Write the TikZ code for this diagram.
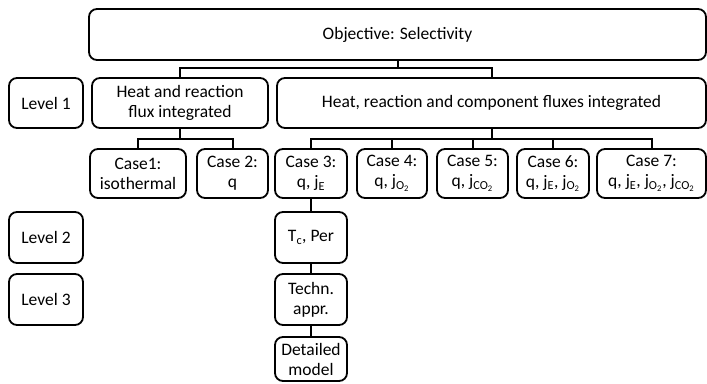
\documentclass[tikz,border=0pt]{standalone}
\usepackage{fontspec}
\setmainfont{Carlito}
\begin{document}
\begin{tikzpicture}[x=1pt,y=-1pt,
  box/.style={draw, line width=1.8pt, rounded corners=8pt, inner sep=0pt,
    align=center, font=\fontsize{17.5}{20}\selectfont},
  link/.style={line width=2pt}]
\useasboundingbox (0,0) rectangle (707,383);

% top objective
\node[box, minimum width=617pt, minimum height=51pt] (obj) at (397.5,34.5) {Objective: Selectivity};

% level labels
\node[box, minimum width=74pt, minimum height=50pt] (lv1) at (46,103) {Level 1};
\node[box, minimum width=74pt, minimum height=51pt] (lv2) at (46,237.5) {Level 2};
\node[box, minimum width=74pt, minimum height=51pt] (lv3) at (46,299.5) {Level 3};

% level 1 branches
\node[box, minimum width=176pt, minimum height=50pt] (hr) at (180,103) {Heat and reaction\\flux integrated};
\node[box, minimum width=429pt, minimum height=50pt] (hrc) at (491.5,103) {Heat, reaction and component fluxes integrated};

% cases
\node[box, minimum width=96pt, minimum height=49pt] (c1) at (138,173.5) {Case1:\\isothermal};
\node[box, minimum width=71pt, minimum height=49pt] (c2) at (232.5,173.5) {Case 2:\\q};
\node[box, minimum width=72pt, minimum height=49pt] (c3) at (311,173.5) {Case 3:\\q, j\textsubscript{E}};
\node[box, minimum width=70pt, minimum height=49pt] (c4) at (392,173.5) {Case 4:\\q, j\textsubscript{O\textsubscript{2}}};
\node[box, minimum width=71pt, minimum height=49pt] (c5) at (472.5,173.5) {Case 5:\\q, j\textsubscript{CO\textsubscript{2}}};
\node[box, minimum width=72pt, minimum height=49pt] (c6) at (553,173.5) {Case 6:\\q, j\textsubscript{E}, j\textsubscript{O\textsubscript{2}}};
\node[box, minimum width=109pt, minimum height=49pt] (c7) at (651.5,173.5) {Case 7:\\q, j\textsubscript{E}, j\textsubscript{O\textsubscript{2}}, j\textsubscript{CO\textsubscript{2}}};

% refinement chain of case 3
\node[box, minimum width=72pt, minimum height=51pt] (tc) at (311,237.5) {T\textsubscript{c}, Per};
\node[box, minimum width=72pt, minimum height=51pt] (tech) at (311,299.5) {Techn.\\appr.};
\node[box, minimum width=72pt, minimum height=44pt] (det) at (311,359) {Detailed\\model};

% tree connectors
\draw[link] (obj.south) -- (obj.south |- 0,68) coordinate (j0);
\draw[link] (hr.north) |- (j0) -| (hrc.north);
\draw[link] (hr.south) -- (hr.south |- 0,139) coordinate (j1);
\draw[link] (c1.north) |- (j1) -| (c2.north);
\draw[link] (hrc.south) -- (hrc.south |- 0,139) coordinate (j2);
\draw[link] (c3.north) |- (j2) -| (c7.north);
\foreach \c in {c4,c5,c6} \draw[link] (\c.north) -- (\c.north |- j2);
\draw[link] (c3) -- (tc);
\draw[link] (tc) -- (tech);
\draw[link] (tech) -- (det);
\end{tikzpicture}
\end{document}
